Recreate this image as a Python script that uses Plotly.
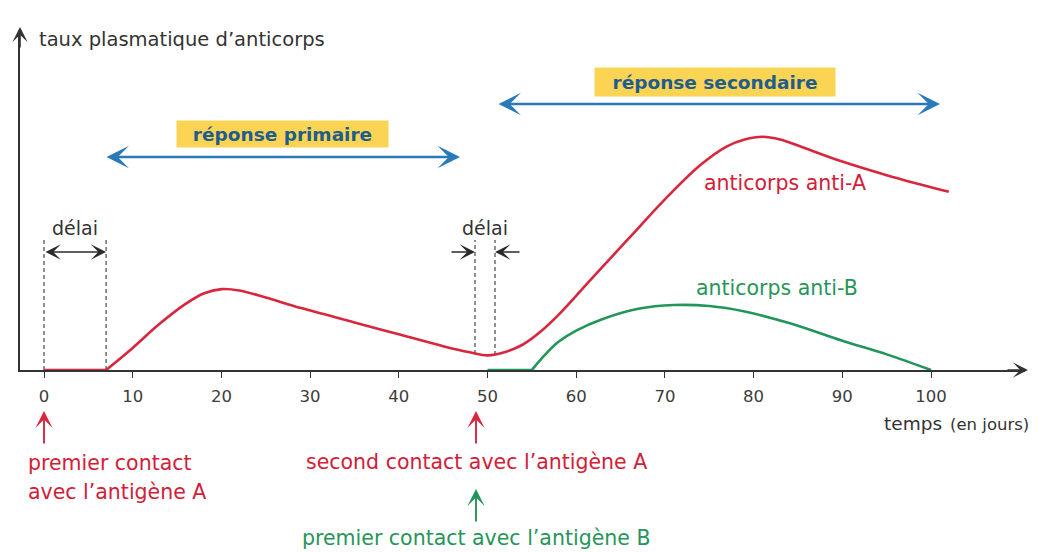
import plotly.graph_objects as go

W, H = 1045, 552
FONT = "DejaVu Sans"

# ---- data (days, antibody level in arbitrary units 0-100) ----
red_days = [0, 7, 10, 13, 16, 18, 20, 22, 25, 29, 35, 40, 45, 48, 50, 52, 54, 56, 58, 62, 66, 70, 74, 77, 79, 81, 83, 85, 90, 95, 102]
red_vals = [0, 0, 6.5, 13.5, 19.5, 22.5, 23.8, 23.4, 21.3, 18.2, 14, 10.5, 7, 5.2, 4.3, 5.3, 7.5, 11.3, 16.2, 27.6, 38.9, 50.2, 60.3, 65.8, 67.8, 68.6, 67.8, 66, 61.3, 57.3, 52.4]
green_days = [50, 55, 56.5, 58, 60, 63, 67, 71, 75, 79, 84, 90, 95, 100]
green_vals = [0, 0, 4.5, 8.3, 11.6, 15, 18, 19.1, 18.8, 17.2, 13.8, 8.6, 4.6, 0]
tick_vals = [0, 10, 20, 30, 40, 50, 60, 70, 80, 90, 100]
tick_text = [str(v) for v in tick_vals]

# ---- layout geometry ----
PX_DAY = 8.87
X0_PX, AX_LEFT_PX, AX_RIGHT_PX = 44, 20, 1025
AX_Y_PX, AX_TOP_PX = 370, 30
x_range = [(AX_LEFT_PX - X0_PX) / PX_DAY, (AX_RIGHT_PX - X0_PX) / PX_DAY]
y_range = [0, 100]
x_dom = [AX_LEFT_PX / W, AX_RIGHT_PX / W]
y_dom = [(H - AX_Y_PX) / H, (H - AX_TOP_PX) / H]


def dx(px):
    return (px - X0_PX) / PX_DAY


def dy(py):
    return (AX_Y_PX - py) / (AX_Y_PX - AX_TOP_PX) * 100


def py_paper(py):
    return (H - py) / H


RED = "#d7263d"
RED_TXT = "#d12038"
GREEN = "#22965a"
GREEN_TXT = "#27955a"
BLUE = "#2a7aba"
YELLOW = "#fbd454"
DARK = "#333333"

fig = go.Figure()
line_red = dict(color=RED, width=2.6)
line_green = dict(color=GREEN, width=2.6)
fig.add_trace(go.Scatter(x=red_days[:2], y=red_vals[:2], mode="lines", line=line_red, cliponaxis=False, hoverinfo="skip"))
fig.add_trace(go.Scatter(x=red_days[1:], y=red_vals[1:], mode="lines", line=dict(shape="spline", smoothing=1, **line_red), cliponaxis=False, hoverinfo="skip"))
fig.add_trace(go.Scatter(x=green_days[:2], y=green_vals[:2], mode="lines", line=line_green, cliponaxis=False, hoverinfo="skip"))
fig.add_trace(go.Scatter(x=green_days[1:], y=green_vals[1:], mode="lines", line=dict(shape="spline", smoothing=1, **line_green), cliponaxis=False, hoverinfo="skip"))

shapes = []
dash = dict(color="#555555", width=1.3, dash="4px,3px")
for xd, y0 in [(0, 0), (7, 0), (dx(475), dy(354)), (dx(495), dy(355))]:
    shapes.append(dict(type="line", xref="x", yref="y", x0=xd, x1=xd, y0=y0, y1=dy(240), line=dash, layer="below"))

ann = []


def arrow(x0, y0, x1, y1, color, width, both=False, size=1.0):
    ann.append(dict(x=x1, y=y1, ax=x0, ay=y0, xref="x", yref="y", axref="x", ayref="y",
                    showarrow=True, text="", arrowhead=3, arrowsize=size, arrowwidth=width,
                    arrowcolor=color, arrowside="end+start" if both else "end",
                    startarrowhead=3, startarrowsize=size, standoff=0, startstandoff=0))


def text(x, y, s, size, color, xref="x", yref="y", xanchor="center", bold=False, **kw):
    ann.append(dict(x=x, y=y, xref=xref, yref=yref, text=s, showarrow=False, xanchor=xanchor,
                    yanchor="middle", font=dict(family=FONT, size=size, color=color,
                                                weight="bold" if bold else "normal"), **kw))


# axis arrowheads
ann.append(dict(x=x_dom[0], y=py_paper(27), xref="paper", yref="paper", ax=0, ay=22, showarrow=True, text="",
                arrowhead=3, arrowsize=1.6, arrowwidth=1.6, arrowcolor=DARK))
ann.append(dict(x=(AX_RIGHT_PX + 3) / W, y=py_paper(AX_Y_PX), xref="paper", yref="paper", ax=-22, ay=0, showarrow=True,
                text="", arrowhead=3, arrowsize=1.6, arrowwidth=1.6, arrowcolor=DARK))

# délai arrows
arrow(0, dy(252), 7, dy(252), "#2b2b2b", 1.7, both=True, size=1.5)
arrow(dx(450), dy(252), dx(475), dy(252), "#2b2b2b", 1.7, size=1.5)
arrow(dx(521), dy(252), dx(495), dy(252), "#2b2b2b", 1.7, size=1.5)
text(dx(75), dy(228), "délai", 19, DARK)
text(dx(485), dy(228), "délai", 19, DARK)

# response arrows
arrow(dx(105), dy(157), dx(460), dy(157), BLUE, 2.5, both=True, size=1.5)
arrow(dx(497), dy(104), dx(940), dy(104), BLUE, 2.5, both=True, size=1.5)
text(dx(282), dy(134), "réponse primaire", 18.5, "#1f5d8c", bold=True, bgcolor=YELLOW, width=211, height=26, borderpad=0)
text(dx(715), dy(82), "réponse secondaire", 18.5, "#1f5d8c", bold=True, bgcolor=YELLOW, width=240, height=28, borderpad=0)

# curve labels
text(dx(785), dy(183), "anticorps anti-A", 20.5, RED_TXT)
text(dx(777), dy(288), "anticorps anti-B", 20.5, GREEN_TXT)

# axis titles
text(37 / W, py_paper(40), "taux plasmatique d’anticorps", 19.5, DARK, xref="paper", yref="paper", xanchor="left")
text(944 / W, py_paper(423), "temps", 18.5, DARK, xref="paper", yref="paper", xanchor="right")
text(948 / W, py_paper(424), "(en jours)", 16.5, DARK, xref="paper", yref="paper", xanchor="left")

# contact arrows and labels
for xd, tip, length, col in [(0, 411, 34, RED), (dx(476), 411, 34, RED), (dx(476), 489, 34, GREEN)]:
    ann.append(dict(x=xd, y=py_paper(tip), xref="x", yref="paper", ax=0, ay=length, showarrow=True, text="",
                    arrowhead=3, arrowsize=1.5, arrowwidth=1.9, arrowcolor=col))
text(26 / W, py_paper(463), "premier contact", 20.5, RED_TXT, xref="paper", yref="paper", xanchor="left")
text(26 / W, py_paper(492), "avec l’antigène A", 20.5, RED_TXT, xref="paper", yref="paper", xanchor="left")
text(476 / W, py_paper(462), "second contact avec l’antigène A", 20.5, RED_TXT, xref="paper", yref="paper")
text(476 / W, py_paper(538), "premier contact avec l’antigène B", 20.5, GREEN_TXT, xref="paper", yref="paper")

fig.update_layout(
    width=W, height=H, margin=dict(l=0, r=0, t=0, b=0),
    paper_bgcolor="white", plot_bgcolor="white", showlegend=False,
    shapes=shapes, annotations=ann,
    xaxis=dict(domain=x_dom, range=x_range, tickvals=tick_vals, ticktext=tick_text, ticks="outside", ticklen=6,
               tickwidth=1.4, tickcolor=DARK, showline=True, linecolor=DARK, linewidth=1.6, showgrid=False,
               zeroline=False, tickfont=dict(family=FONT, size=16.5, color="#3c3c3c"), ticklabelstandoff=4,
               fixedrange=True),
    yaxis=dict(domain=y_dom, range=y_range, showline=True, linecolor=DARK, linewidth=1.6, showgrid=False,
               zeroline=False, showticklabels=False, ticks="", fixedrange=True),
)

fig.write_html("out.html", config={"displayModeBar": False},
               post_script="document.body.style.margin='0px';document.body.style.overflow='hidden';")
